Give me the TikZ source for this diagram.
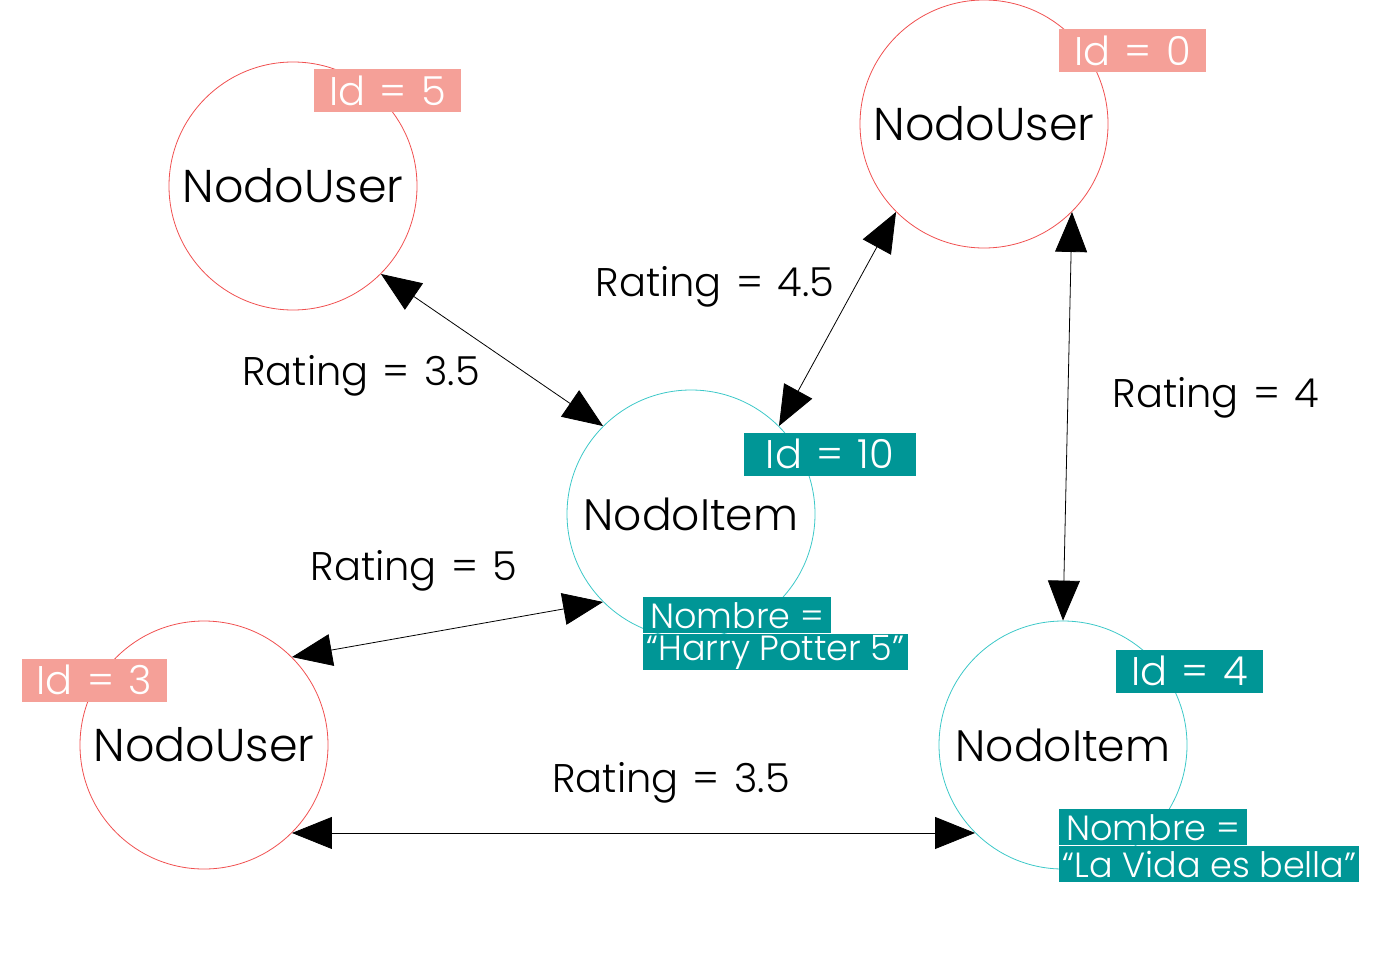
\documentclass[tikz,border=0pt]{standalone}
\usepackage{fontspec}
\setmainfont{Poppins Light}
\usetikzlibrary{arrows.meta,positioning}
\definecolor{salmon}{RGB}{245,160,152}
\definecolor{petrol}{RGB}{0,150,150}
\definecolor{userline}{RGB}{240,80,80}
\definecolor{itemline}{RGB}{60,200,200}
\newcommand{\widespace}{\spaceskip=0.36em\relax}

\begin{document}
\begin{tikzpicture}[x=0.5pt,y=-0.5pt,
  user/.style ={circle,draw=userline,line width=0.4pt,minimum size=124pt,inner sep=0pt,font=\fontsize{23}{28}\selectfont},
  item/.style ={circle,draw=itemline,line width=0.4pt,minimum size=124pt,inner sep=0pt,font=\fontsize{22}{27}\selectfont},
  userid/.style ={fill=salmon,text=white,inner xsep=7.5pt,minimum height=21.5pt,inner ysep=0pt,font=\fontsize{20}{24}\selectfont\widespace},
  itemid/.style ={fill=petrol,text=white,inner xsep=7.5pt,minimum height=21.5pt,inner ysep=0pt,font=\fontsize{20}{24}\selectfont\widespace},
  namebox/.style={fill=petrol,text=white,inner xsep=1.5pt,minimum height=18pt,inner ysep=0pt,anchor=north west,font=\fontsize{17.5}{21}\selectfont},
  rating/.style ={font=\fontsize{20}{24}\selectfont\widespace}]
  \useasboundingbox (0,0) rectangle (1400,952);
  \node[user]          (u5)  at (293,186)     {NodoUser};
  \node[user]          (u0)  at (984,124)     {NodoUser};
  \node[item]          (i10) at (691,514)     {NodoItem};
  \node[user]          (u3)  at (204,745)     {NodoUser};
  \node[item]          (i4)  at (1063,745)    {NodoItem};
  % ids
  \node[userid]        (id5)  at (387.5,90.5)  {Id = 5};
  \node[userid]        (id0)  at (1132.5,50.5) {Id = 0};
  \node[itemid,inner xsep=11pt] (id10) at (830,454) {Id = 10};
  \node[userid]        (id3)  at (94.5,680)    {Id = 3};
  \node[itemid]        (id4)  at (1189.5,671)  {Id = 4};
  % names
  \node[namebox,inner xsep=3.5pt] (n10a) at (643,597)        {Nombre =};
  \node[namebox]                  (n10b) at (n10a.south west) {“Harry Potter 5”};
  \node[namebox,inner xsep=3.5pt] (n4a)  at (1059,809)       {Nombre =};
  \node[namebox]                  (n4b)  at (n4a.south west)  {“La Vida es bella”};
  % ratings
  \node[rating]        (r1) at (361,376)  {Rating = 3.5};
  \node[rating]        (r2) at (715,287)  {Rating = 4.5};
  \node[rating]        (r3) at (1216,398) {Rating = 4};
  \node[rating]        (r4) at (414,571)  {Rating = 5};
  \node[rating]        (r5) at (671,783)  {Rating = 3.5};
\tikzset{link/.style={{Triangle[length=20pt,width=16pt]}-{Triangle[length=20pt,width=16pt]},line width=0.4pt}}
\path
      (u5.-45)    edge [link]   (i10.135)
      (u0.-135)   edge [link]   (i10.45)
      (u0.-45)    edge [link]   (i4.90)
      (u3.45)     edge [link]   (i10.-135)
      (u3.-45)    edge [link]   (i4.-135);
\end{tikzpicture}
\end{document}
